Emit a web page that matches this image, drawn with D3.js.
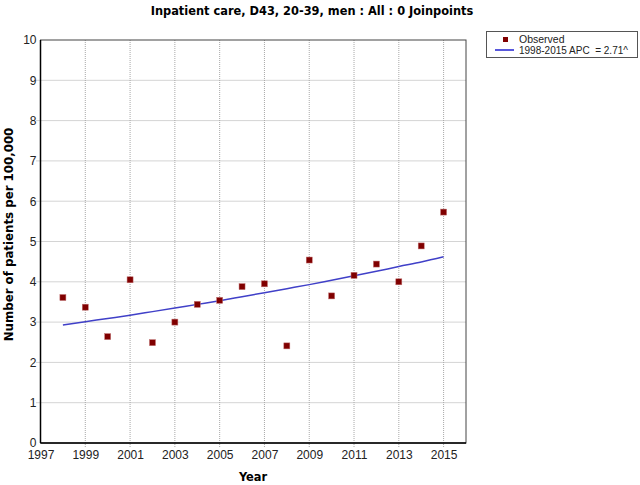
<!DOCTYPE html>
<html>
<head>
<meta charset="utf-8">
<script src="https://cdn.jsdelivr.net/npm/d3@7"></script>
<style>
  body { margin: 0; background: #fff; }
  text { font-family: "Liberation Sans", Arial, sans-serif; }
  .bold { font-family: "DejaVu Sans", Verdana, sans-serif; font-weight: bold; }
</style>
</head>
<body>
<div id="chart"></div>
<script>
const years = [1998, 1999, 2000, 2001, 2002, 2003, 2004, 2005, 2006, 2007, 2008, 2009, 2010, 2011, 2012, 2013, 2014, 2015]
const observed = [3.61, 3.37, 2.64, 4.05, 2.49, 3.0, 3.44, 3.54, 3.88, 3.95, 2.41, 4.54, 3.65, 4.16, 4.44, 4.0, 4.89, 5.73]
// fitted joinpoint line (APC 2.71), estimated at each year
const fitted = [2.93, 3.01, 3.09, 3.17, 3.26, 3.35, 3.44, 3.53, 3.63, 3.73, 3.83, 3.93, 4.04, 4.15, 4.26, 4.38, 4.49, 4.62]
const xTicks = [1997, 1999, 2001, 2003, 2005, 2007, 2009, 2011, 2013, 2015]
const yTicks = [0, 1, 2, 3, 4, 5, 6, 7, 8, 9, 10]

var width = 640
var height = 485
var margin = { left: 40.5, right: 174, top: 40, bottom: 42 }
var innerWidth = width - margin.left - margin.right
var innerHeight = height - margin.top - margin.bottom

var svg = d3.select("#chart").append("svg")
  .attr("width", width)
  .attr("height", height)

var xScale = d3.scaleLinear().domain([1997, 2016]).range([0, innerWidth])
var yScale = d3.scaleLinear().domain([0, 10]).range([innerHeight, 0])

svg.append("text")
  .attr("class", "bold")
  .attr("x", 312)
  .attr("y", 15)
  .attr("text-anchor", "middle")
  .style("font-size", "11.4px")
  .text("Inpatient care, D43, 20-39, men : All : 0 Joinpoints")

var g = svg.append("g")
  .attr("transform", "translate(" + margin.left + "," + margin.top + ")")

// dotted grid
g.selectAll(".hgrid")
  .data(yTicks.filter(d => d > 0 && d < 10))
  .enter().append("line")
  .attr("x1", -4).attr("x2", innerWidth)
  .attr("y1", d => yScale(d)).attr("y2", d => yScale(d))
  .attr("stroke", "#a8a8a8").attr("stroke-dasharray", "1,1")

g.selectAll(".vgrid")
  .data(xTicks.filter(d => d > 1997))
  .enter().append("line")
  .attr("y1", 0).attr("y2", innerHeight + 4)
  .attr("x1", d => xScale(d)).attr("x2", d => xScale(d))
  .attr("stroke", "#a8a8a8").attr("stroke-dasharray", "1,1")

// frame
g.append("rect")
  .attr("width", innerWidth).attr("height", innerHeight)
  .attr("fill", "none").attr("stroke", "#444").attr("stroke-width", 1)
g.append("line").attr("x1", 0).attr("x2", 0).attr("y1", 0).attr("y2", innerHeight)
  .attr("stroke", "#000").attr("stroke-width", 1.5)
g.append("line").attr("x1", 0).attr("x2", innerWidth).attr("y1", innerHeight).attr("y2", innerHeight)
  .attr("stroke", "#000").attr("stroke-width", 1.5)

var yAxis = d3.axisLeft(yScale).tickValues(yTicks).tickSize(0).tickPadding(4)
var xAxis = d3.axisBottom(xScale).tickValues(xTicks).tickFormat(d3.format("d")).tickSize(0).tickPadding(7)

var yAxisG = g.append("g").call(yAxis)
var xAxisG = g.append("g").attr("transform", "translate(0," + innerHeight + ")").call(xAxis)
;[yAxisG, xAxisG].forEach(a => {
  a.select(".domain").remove()
  a.selectAll("text").style("font-size", "12px").attr("fill", "#222")
    .style("font-family", "'Liberation Sans', Arial, sans-serif")
})

svg.append("text")
  .attr("class", "bold")
  .attr("transform", "translate(13," + (margin.top + innerHeight / 2 - 7) + ") rotate(-90)")
  .attr("text-anchor", "middle")
  .style("font-size", "11.8px")
  .text("Number of patients per 100,000")

svg.append("text")
  .attr("class", "bold")
  .attr("x", 253)
  .attr("y", 481)
  .attr("text-anchor", "middle")
  .style("font-size", "11.4px")
  .text("Year")

// fitted line
var line = d3.line()
  .x((d, i) => xScale(years[i]))
  .y(d => yScale(d))
  .curve(d3.curveMonotoneX)

g.append("path")
  .datum(fitted)
  .attr("d", line)
  .attr("fill", "none")
  .attr("stroke", "#4040c8")
  .attr("stroke-width", 1.5)

// observed points
g.selectAll(".pt")
  .data(observed)
  .enter().append("rect")
  .attr("x", (d, i) => xScale(years[i]) - 3)
  .attr("y", d => yScale(d) - 3)
  .attr("width", 6).attr("height", 6)
  .attr("fill", "#800000")
  .attr("stroke", "#c07070").attr("stroke-width", 0.5)

// legend
var leg = svg.append("g").attr("transform", "translate(486,31)")
leg.append("rect").attr("x", 0.5).attr("y", 0.5).attr("width", 151).attr("height", 26)
  .attr("fill", "#fff").attr("stroke", "#555")
leg.append("rect").attr("x", 17).attr("y", 6).attr("width", 5).attr("height", 5).attr("fill", "#800000")
leg.append("line").attr("x1", 9).attr("x2", 28).attr("y1", 19).attr("y2", 19)
  .attr("stroke", "#2020d0").attr("stroke-width", 1.5)
leg.append("text").attr("x", 33).attr("y", 12).style("font-size", "10.5px").attr("fill", "#222").text("Observed")
leg.append("text").attr("x", 33).attr("y", 23).style("font-size", "10px").attr("fill", "#222")
  .attr("xml:space", "preserve").style("white-space", "pre").text("1998-2015 APC  = 2.71^")
</script>
</body>
</html>
